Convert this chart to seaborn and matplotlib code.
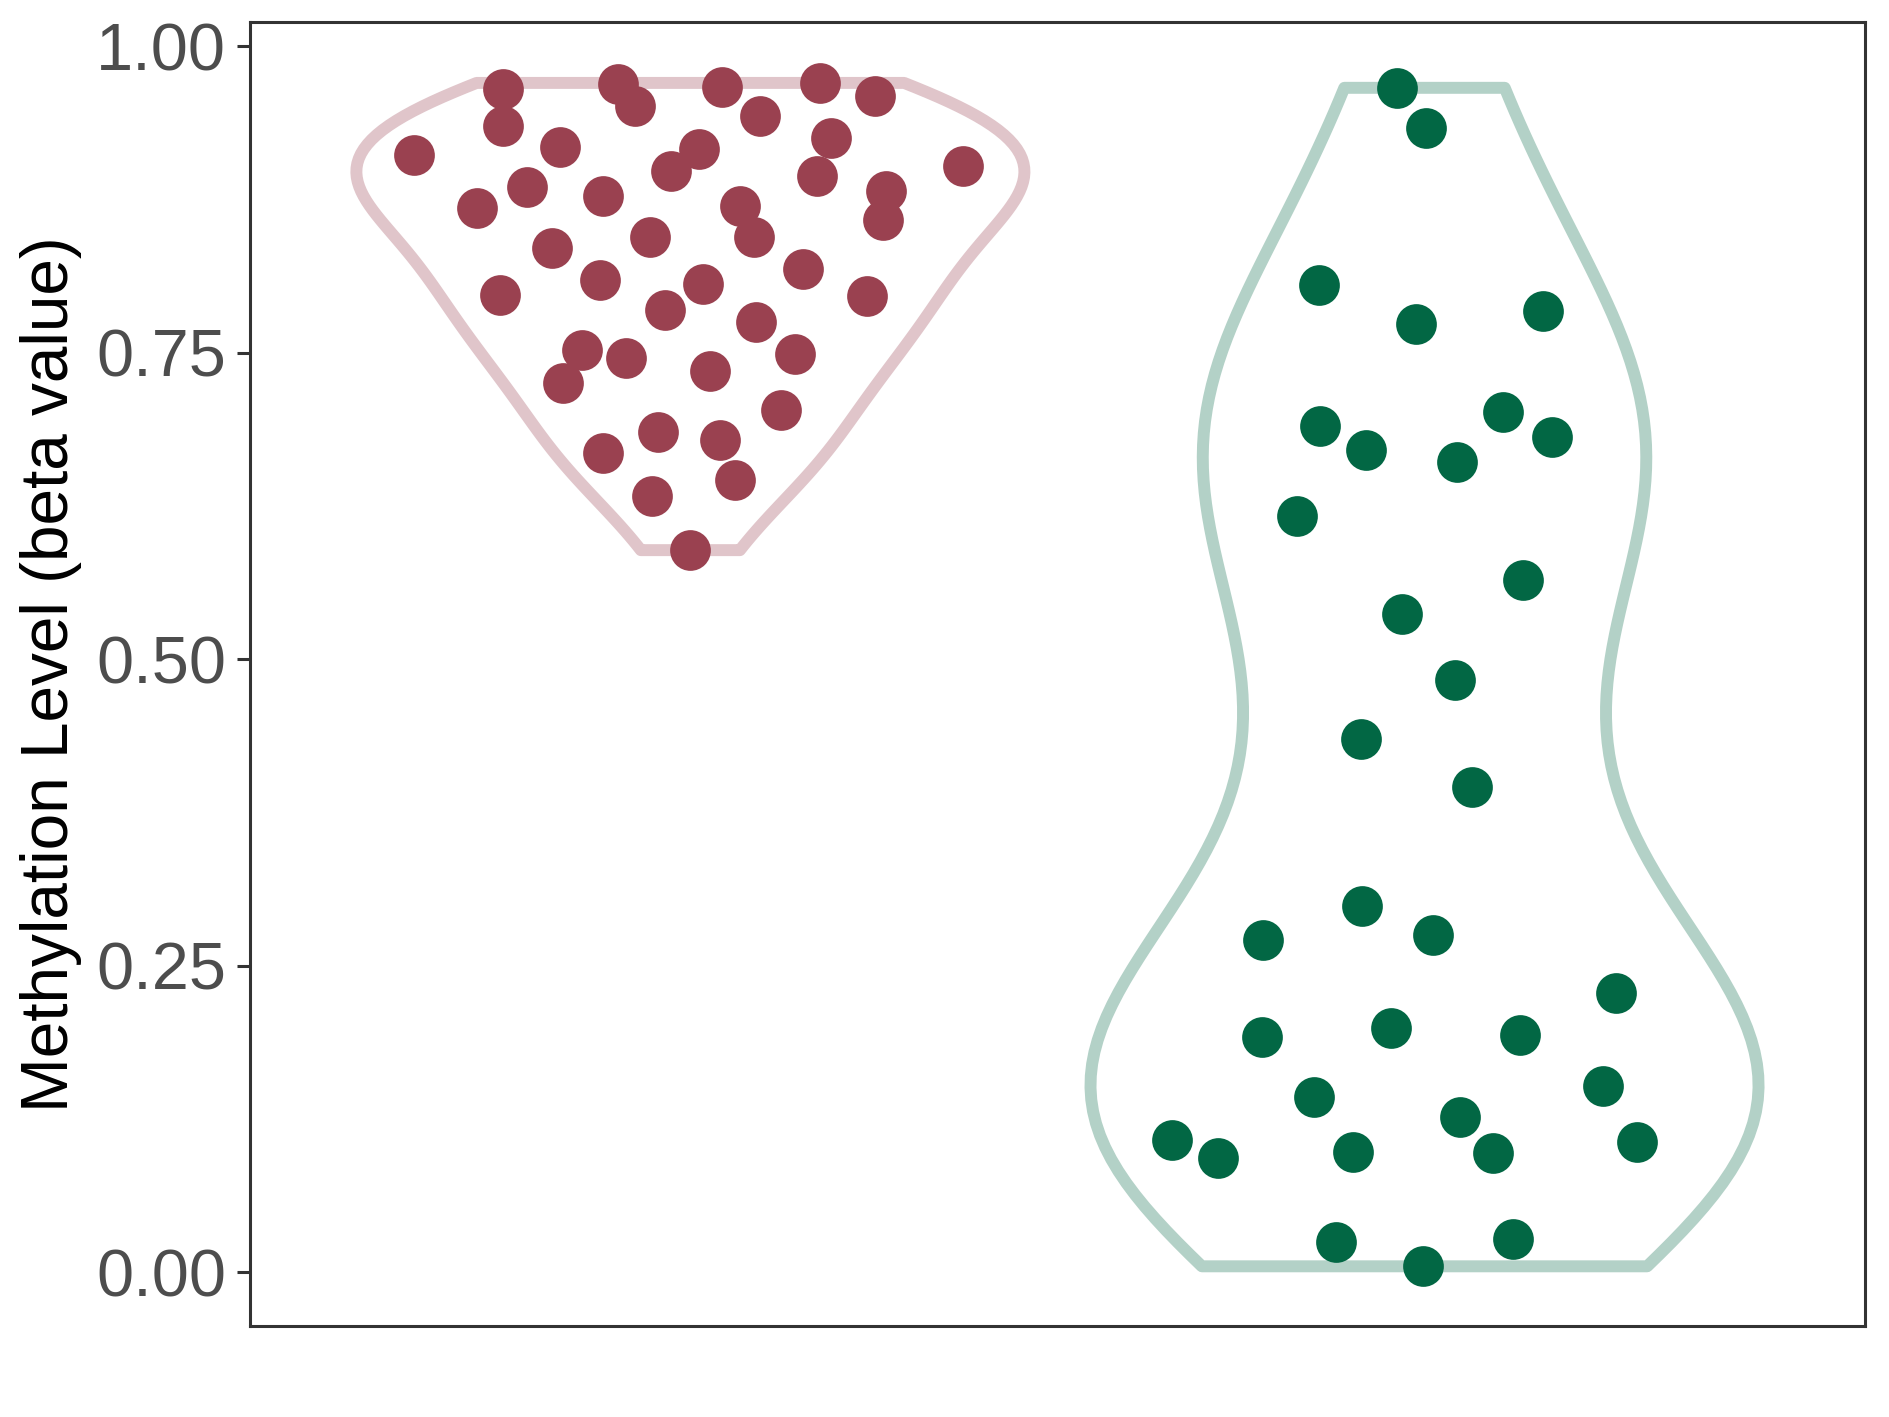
import numpy as np
import pandas as pd
import matplotlib
matplotlib.use('Agg')
import matplotlib.pyplot as plt
import seaborn as sns

# ---- data ----
groups = ['Group A', 'Group B']

beta_a = [0.965, 0.969, 0.967, 0.970, 0.959, 0.951, 0.935, 0.943, 0.925, 0.911,
          0.918, 0.916, 0.902, 0.898, 0.894, 0.885, 0.882, 0.878, 0.868, 0.870,
          0.858, 0.844, 0.844, 0.835, 0.818, 0.809, 0.806, 0.797, 0.796, 0.785,
          0.775, 0.752, 0.746, 0.749, 0.735, 0.725, 0.703, 0.685, 0.679, 0.668,
          0.646, 0.633, 0.589]
jitter_a = [-0.255, -0.098, 0.043, 0.177, 0.251, -0.075, -0.255, 0.095, 0.192, -0.377,
            -0.178, 0.012, 0.371, -0.026, 0.172, -0.223, 0.266, -0.119, -0.290, 0.068,
            0.263, -0.055, 0.087, -0.188, 0.153, -0.123, 0.017, -0.259, 0.240, -0.034,
            0.090, -0.147, -0.088, 0.143, 0.027, -0.173, 0.123, -0.044, 0.040, -0.119,
            0.061, -0.052, -0.001]

beta_b = [0.966, 0.933, 0.805, 0.773, 0.784, 0.702, 0.690, 0.681, 0.671, 0.661,
          0.617, 0.565, 0.537, 0.483, 0.435, 0.396, 0.299, 0.271, 0.275, 0.228,
          0.199, 0.192, 0.194, 0.152, 0.143, 0.127, 0.108, 0.093, 0.098, 0.097,
          0.106, 0.025, 0.027, 0.005]
jitter_b = [-0.038, 0.002, -0.144, -0.011, 0.162, 0.107, -0.143, 0.174, -0.080, 0.044,
            -0.174, 0.134, -0.031, 0.041, -0.087, 0.064, -0.085, -0.220, 0.011, 0.261,
            -0.046, -0.221, 0.130, 0.243, -0.151, 0.048, -0.344, -0.282, -0.097, 0.093,
            0.290, -0.120, 0.120, -0.002]

point_colors = ['#9A4150', '#026744']
outline_colors = ['#E0C5CA', '#B3D1C7']

# ---- style ----
sns.set_style('white')
plt.rcParams['font.family'] = ['Liberation Sans', 'DejaVu Sans']

fig = plt.figure(figsize=(9.445, 7.085), dpi=200)
ax = fig.add_axes([0.1323, 0.0642, 0.855, 0.9203])


def nrd0_factor(v):
    # R's default bandwidth expressed as a factor of the sample sd
    v = np.asarray(v)
    sd = v.std(ddof=1)
    iqr = np.subtract(*np.percentile(v, [75, 25]))
    lo = min(sd, iqr / 1.34)
    return 0.9 * lo / sd * len(v) ** (-0.2)


series = [(beta_a, jitter_a), (beta_b, jitter_b)]
for i, (vals, jit) in enumerate(series):
    df = pd.DataFrame({'group': groups[i], 'beta': vals})
    sns.violinplot(data=df, x='group', y='beta', order=groups, ax=ax,
                   fill=False, color=outline_colors[i], linecolor=outline_colors[i],
                   linewidth=4.3, inner=None, cut=0, density_norm='width',
                   width=0.91, bw_method=nrd0_factor(vals))

for i, (vals, jit) in enumerate(series):
    xs = i + np.asarray(jit)
    ax.scatter(xs, vals, s=215, color=point_colors[i], linewidths=0, zorder=5)

ax.set_xlim(-0.6, 1.6)
ax.set_ylim(-0.0437, 1.0197)
ax.set_yticks([0, 0.25, 0.5, 0.75, 1.0])
ax.set_yticklabels(['0.00', '0.25', '0.50', '0.75', '1.00'])
ax.set_xticks([])
ax.set_xlabel('')
ax.set_ylabel('Methylation Level (beta value)', fontsize=23.7, color='black', labelpad=5)

ax.tick_params(axis='y', labelsize=24, labelcolor='#4D4D4D', color='#333333',
               length=4.6, width=1.1, pad=4, left=True)
for sp in ax.spines.values():
    sp.set_visible(True)
    sp.set_color('#333333')
    sp.set_linewidth(1.1)

fig.savefig('out.png', dpi=200, facecolor='white')
